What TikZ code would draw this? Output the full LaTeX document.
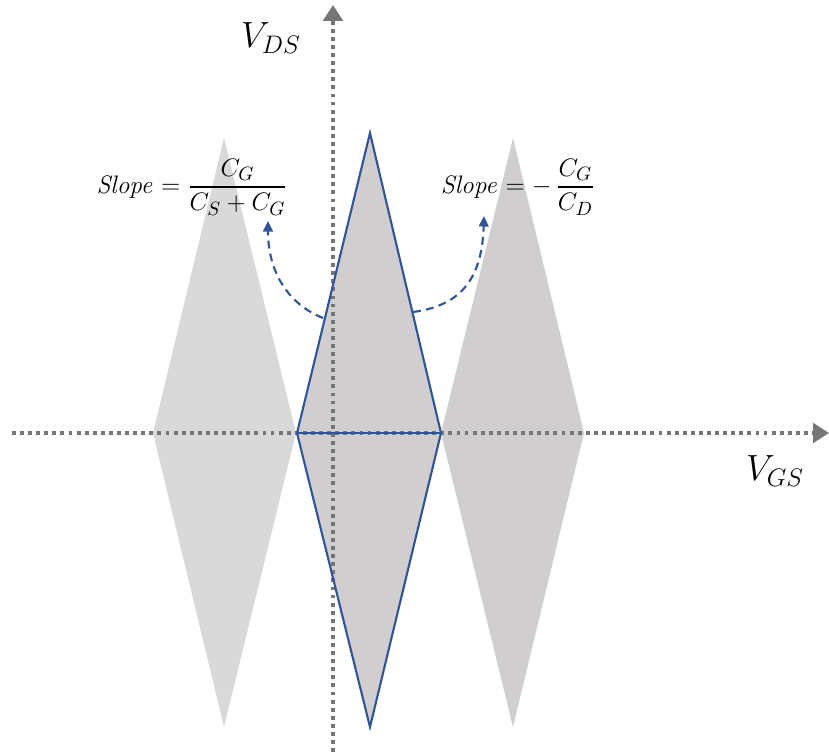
\documentclass[tikz,border=0pt]{standalone}
\usepackage{amsmath,amssymb}
\usepackage{tikz}
\usetikzlibrary{positioning,arrows.meta}
\usepackage{xcolor}
\definecolor{axisgray}{RGB}{118,118,118}
\definecolor{lightfill}{RGB}{217,217,217}
\definecolor{darkfill}{RGB}{208,206,206}
\definecolor{edgeblue}{RGB}{47,85,151}

\begin{document}
\begin{tikzpicture}[x=0.02cm,y=-0.02cm,
  axis/.style={axisgray,line width=2.2pt,dash pattern=on 2.2pt off 2.4pt,-{Triangle[length=9pt,width=11pt]}},
  slopearrow/.style={edgeblue,line width=1.2pt,dash pattern=on 4.5pt off 3pt,-{Triangle[length=6pt,width=5.5pt]}}]
\useasboundingbox (0,0) rectangle (829,754);
% diamonds
\fill[lightfill] (153,433) -- (224,138) -- (296,433) -- (224,727) -- cycle;
\fill[darkfill] (441,433) -- (513,138) -- (584,433) -- (513,727) -- cycle;
\fill[darkfill] (297,433) -- (370,133) -- (441,433) -- (370,727) -- cycle;
% axes
\coordinate (xs) at (12,433);
\coordinate (xe) at (829,433);
\coordinate (ys) at (333,752);
\coordinate (ye) at (333,5);
\draw[axis] (xs) -- (xe);
\draw[axis] (ys) -- (ye);
% center diamond
\draw[edgeblue,line width=1.2pt,line join=miter] (297,433) -- (370,133) -- (441,433) -- (370,727) -- cycle;
\draw[edgeblue,line width=1.2pt] (297,433) -- (441,433);
\node (vds) at (271,38) {\fontsize{19.5}{24}\selectfont $V_{DS}$};
\node (vgs) at (775,471) {\fontsize{19.5}{24}\selectfont $V_{GS}$};
\node (slopeL) at (192,187) {\fontsize{15.5}{19}\selectfont $\mathit{Slope}=\dfrac{C_G}{C_S+C_G}$};
\node (slopeR) at (518,187) {\fontsize{15.5}{19}\selectfont $\mathit{Slope}=-\,\dfrac{C_G}{C_D}$};
\coordinate (la) at (323,318);
\coordinate (lb) at (268,221);
\coordinate (ra) at (413,312);
\coordinate (rb) at (484,216);
\draw[slopearrow] (la) .. controls (288,304) and (268,272) .. (lb);
\draw[slopearrow] (ra) .. controls (458,306) and (482,282) .. (rb);
\end{tikzpicture}
\end{document}
